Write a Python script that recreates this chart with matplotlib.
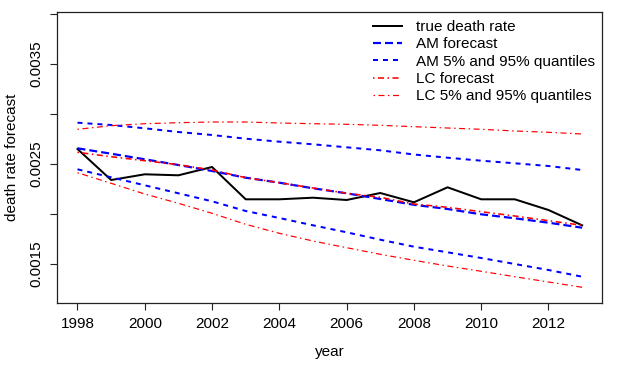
import matplotlib
matplotlib.use("Agg")
import matplotlib.pyplot as plt
from matplotlib.ticker import FixedLocator, FixedFormatter

plt.rcParams['font.family'] = ['Liberation Sans', 'DejaVu Sans']
plt.rcParams['lines.scale_dashes'] = False

years = list(range(1998, 2014))
true_rate = [0.00265, 0.00234, 0.002397, 0.002387, 0.00247, 0.002147, 0.002147, 0.002163,
             0.00214, 0.00221, 0.002117, 0.002267, 0.002147, 0.002147, 0.00204, 0.001887]
am_fc = [0.002657, 0.002603, 0.002547, 0.00249, 0.00243, 0.002363, 0.002313, 0.002257,
         0.002207, 0.00215, 0.002092, 0.00205, 0.001997, 0.001957, 0.001913, 0.001863]
am_hi = [0.002913, 0.00289, 0.002857, 0.00282, 0.00279, 0.002753, 0.002723, 0.002697,
         0.002667, 0.002637, 0.002595, 0.002563, 0.002533, 0.002507, 0.00248, 0.00244]
am_lo = [0.002447, 0.002367, 0.002287, 0.002207, 0.002127, 0.00203, 0.00196, 0.001887,
         0.001817, 0.001743, 0.001673, 0.001617, 0.00156, 0.0015, 0.00144, 0.001373]
lc_fc = [0.002617, 0.002573, 0.002533, 0.002493, 0.00244, 0.002363, 0.002313, 0.00226,
         0.002207, 0.002167, 0.0021, 0.002067, 0.002023, 0.00198, 0.001933, 0.001887]
lc_hi = [0.002847, 0.002883, 0.002903, 0.002913, 0.00292, 0.00292, 0.00291, 0.002903,
         0.002897, 0.002887, 0.002873, 0.00286, 0.002847, 0.00283, 0.002817, 0.0028]
lc_lo = [0.002413, 0.002307, 0.0022, 0.002107, 0.002007, 0.001897, 0.001807, 0.00173,
         0.001663, 0.001597, 0.001537, 0.00148, 0.001427, 0.001373, 0.00132, 0.001267]

xticks = [1998, 2000, 2002, 2004, 2006, 2008, 2010, 2012]
yticks = [0.0015, 0.002, 0.0025, 0.003, 0.0035, 0.004]
ytick_labels = ["0.0015", "", "0.0025", "", "0.0035", ""]

labels = ["true death rate", "AM forecast", "AM 5% and 95% quantiles",
          "LC forecast", "LC 5% and 95% quantiles"]

fig = plt.figure(figsize=(6.23, 3.68), dpi=100)
ax = fig.add_axes([57.3/623, 1 - 303/368, (602.3-57.3)/623, (303-11.7)/368])

pt = 72/100.0  # points per pixel
dash_am = (0, (8*pt, 4*pt))
dash_amq = (0, (5*pt, 5*pt))
dash_lc = (0, (1.5*pt, 3.5*pt, 6*pt, 3.5*pt))

l1, = ax.plot(years, true_rate, color='black', lw=2.0*pt)
l2, = ax.plot(years, am_fc, color='blue', lw=2.2*pt, linestyle=dash_am)
l3, = ax.plot(years, am_hi, color='blue', lw=2.0*pt, linestyle=dash_amq)
ax.plot(years, am_lo, color='blue', lw=2.0*pt, linestyle=dash_amq)
l4, = ax.plot(years, lc_fc, color='red', lw=1.6*pt, linestyle=dash_lc)
l5, = ax.plot(years, lc_hi, color='red', lw=1.2*pt, linestyle=dash_lc)
ax.plot(years, lc_lo, color='red', lw=1.2*pt, linestyle=dash_lc)

ax.set_xlim(1997.4, 2013.6)
ax.set_ylim(0.00111, 0.004023)

ax.xaxis.set_major_locator(FixedLocator(xticks))
ax.set_xticklabels([str(x) for x in xticks])
ax.yaxis.set_major_locator(FixedLocator(yticks))
ax.yaxis.set_major_formatter(FixedFormatter(ytick_labels))
for lab in ax.get_yticklabels():
    lab.set_rotation(90)
    lab.set_va('center')

ax.tick_params(axis='both', direction='out', length=7.2*pt, width=0.8, labelsize=11,
               colors='#222222', labelcolor='black')
ax.tick_params(axis='x', pad=5)
ax.tick_params(axis='y', pad=5)
for s in ax.spines.values():
    s.set_linewidth(0.9)
    s.set_color('#222222')

ax.set_xlabel("year", fontsize=11, labelpad=10)
ax.set_ylabel("death rate forecast", fontsize=11, labelpad=7)

leg = ax.legend([l1, l2, l3, l4, l5], labels, loc='upper left',
                bbox_to_anchor=((373-57.3)/545.0, 1 - (20-11.7)/291.3),
                frameon=False, fontsize=11, handlelength=1.9, handletextpad=0.9,
                labelspacing=0.22, borderpad=0, borderaxespad=0)

fig.savefig("out.png", dpi=100)
